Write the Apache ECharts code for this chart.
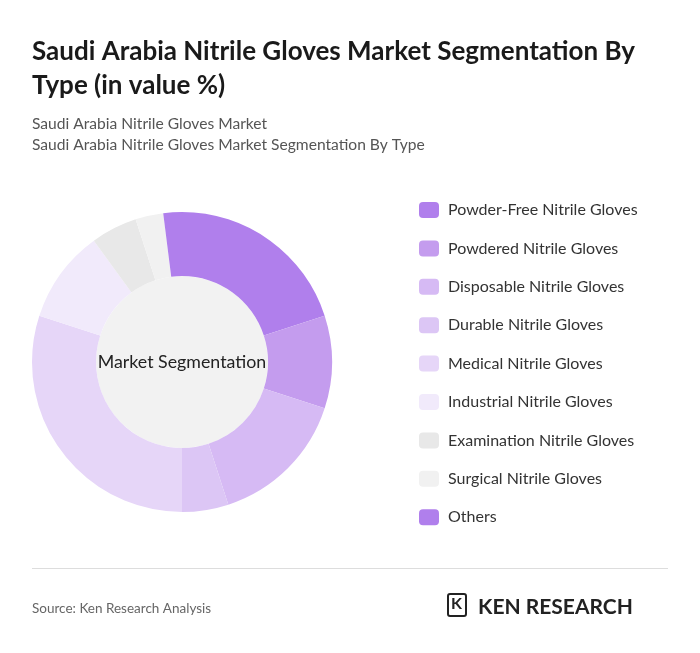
<!DOCTYPE html>
<html>
<head>
<meta charset="utf-8">
<script src="https://cdn.jsdelivr.net/npm/echarts@6/dist/echarts.min.js"></script>
<style>
body { margin: 0; background: #fff; font-family: Lato, "Noto Sans", sans-serif; }
#chart { width: 700px; height: 653px; }
</style>
</head>
<body>
<div id="chart"></div>
<script>
var categories = ["Powder-Free Nitrile Gloves", "Powdered Nitrile Gloves", "Disposable Nitrile Gloves",
    "Durable Nitrile Gloves", "Medical Nitrile Gloves", "Industrial Nitrile Gloves",
    "Examination Nitrile Gloves", "Surgical Nitrile Gloves", "Others"];
var values = [20, 10, 15, 5, 30, 10, 5, 3, 2];
var colors = ["#b07fec", "#c49cee", "#d6baf4", "#dcc6f5", "#e6d6f8", "#f1eafb", "#e8e8e8", "#f1f1f1", "#b07fec"];

var pieData = [];
for (var i = 0; i < categories.length; i++) {
    pieData.push({ name: categories[i], value: values[i], itemStyle: { color: colors[i] } });
}

var chart = echarts.init(document.getElementById("chart"));
chart.setOption({
    animation: false,
    title: [
        {
            text: "Saudi Arabia Nitrile Gloves Market Segmentation By\nType (in value %)",
            left: 27, top: 30,
            textStyle: { fontSize: 26, fontWeight: "bold", color: "#1a1a1a", lineHeight: 34, fontFamily: "Lato" }
        },
        {
            text: "Saudi Arabia Nitrile Gloves Market\nSaudi Arabia Nitrile Gloves Market Segmentation By Type",
            left: 27, top: 108,
            textStyle: { fontSize: 15.6, fontWeight: "normal", color: "#555", lineHeight: 21, fontFamily: "Lato" }
        },
        {
            text: "Source: Ken Research Analysis",
            left: 27, top: 597,
            textStyle: { fontSize: 13.5, fontWeight: "normal", color: "#666", fontFamily: "Lato" }
        },
        {
            text: "KEN RESEARCH",
            left: 473, top: 592,
            textStyle: { fontSize: 21, fontWeight: "bold", color: "#222", fontFamily: "Lato" }
        }
    ],
    legend: {
        orient: "vertical",
        left: 414, top: 197,
        itemWidth: 20, itemHeight: 16, itemGap: 22.4,
        icon: "roundRect",
        data: categories,
        textStyle: { fontSize: 16, color: "#333", padding: [0, 0, 0, 4], fontFamily: "Lato" }
    },
    graphic: [
        { type: "rect", shape: { x: 32, y: 568, width: 636, height: 1 }, style: { fill: "#ddd" } },
        { type: "rect", shape: { x: 448, y: 594, width: 18, height: 22, r: 2 }, style: { fill: "none", stroke: "#222", lineWidth: 2 } },
        { type: "text", left: 451, top: 596, style: { text: "K", fill: "#222", font: "bold 16px Lato" } }
    ],
    series: [
        {
            type: "pie",
            center: [182, 362],
            radius: [0, 86],
            silent: true,
            label: { show: true, position: "center", formatter: "Market Segmentation", fontSize: 17.8, color: "#222", fontFamily: "Lato" },
            data: [{ value: 1, itemStyle: { color: "#f2f2f2" } }]
        },
        {
            type: "pie",
            center: [182, 362],
            radius: [86, 150],
            startAngle: 90,
            clockwise: true,
            label: { show: false },
            labelLine: { show: false },
            data: pieData
        }
    ]
});
</script>
</body>
</html>
